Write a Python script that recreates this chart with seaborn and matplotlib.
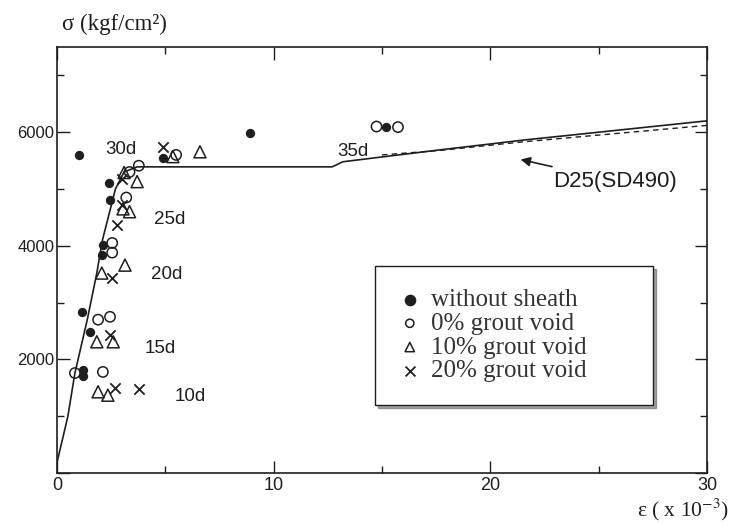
import matplotlib
matplotlib.use("Agg")
import matplotlib.pyplot as plt
import numpy as np
import pandas as pd
import seaborn as sns

# ── data (strain x10^-3, stress kgf/cm2) ──
sheath_x = [1.03, 2.40, 2.45, 2.12, 2.07, 1.15, 1.52, 1.20, 1.20, 4.90, 8.90, 15.18]
sheath_y = [5590, 5110, 4810, 4020, 3840, 2840, 2490, 1815, 1700, 5550, 5990, 6090]

void0_x = [3.78, 3.35, 3.20, 2.55, 2.55, 1.90, 2.45, 0.83, 2.12, 5.50, 14.75, 15.74]
void0_y = [5410, 5300, 4850, 4050, 3880, 2700, 2750, 1760, 1780, 5600, 6100, 6090]

void10_x = [3.10, 3.70, 3.05, 3.35, 2.07, 3.14, 1.84, 2.60, 1.90, 2.35, 5.35, 6.60]
void10_y = [5290, 5130, 4650, 4600, 3520, 3660, 2310, 2310, 1430, 1370, 5570, 5655]

void20_x = [3.00, 3.00, 2.77, 2.55, 2.45, 2.68, 3.80, 4.90]
void20_y = [5170, 4720, 4370, 3430, 2430, 1490, 1480, 5745]

curve_x = [0.0, 0.5, 0.83, 1.4, 1.84, 2.1, 2.7, 3.1, 3.7, 12.7, 13.2, 17.7, 21.5, 30.0]
curve_y = [180, 990, 1760, 2700, 3520, 4100, 5000, 5300, 5390, 5390, 5480, 5690, 5860, 6200]

rebar_x = [15.0, 17.7, 21.5, 30.0]
rebar_y = [5600, 5680, 5830, 6120]

span_labels = ["30d", "25d", "20d", "15d", "10d", "35d"]
span_x = [2.95, 5.20, 5.07, 4.75, 6.14, 13.66]
span_y = [5690, 4460, 3490, 2200, 1340, 5660]

series_names = ["without sheath", "0% grout void", "10% grout void", "20% grout void"]

ink = "#1e1e1e"

sns.set_style("ticks")
plt.rcParams["font.family"] = ["Liberation Sans", "DejaVu Sans"]
plt.rcParams["mathtext.fontset"] = "stix"

fig = plt.figure(figsize=(7.3, 5.24), dpi=100)
ax = fig.add_axes([0.078, 0.0973, 0.8904, 0.813])

# ── curves ───────────────────────────────────────────────────────
curve = pd.DataFrame({"strain": curve_x, "stress": curve_y})
rebar = pd.DataFrame({"strain": rebar_x, "stress": rebar_y})
sns.lineplot(data=curve, x="strain", y="stress", ax=ax, color=ink, lw=1.2,
             sort=False, estimator=None)
sns.lineplot(data=rebar, x="strain", y="stress", ax=ax, color=ink, lw=1.0,
             ls=(0, (4, 3)), sort=False, estimator=None)

# ── test points ──────────────────────────────────────────────────
groups = [
    (sheath_x, sheath_y, dict(marker="o", s=45, color=ink, linewidth=0)),
    (void0_x, void0_y, dict(marker="o", s=55, facecolor="none", edgecolor=ink, linewidth=1.1)),
    (void10_x, void10_y, dict(marker="^", s=75, facecolor="none", edgecolor=ink, linewidth=1.1)),
    (void20_x, void20_y, dict(marker="x", s=55, color=ink, linewidth=1.3)),
]
for name, (gx, gy, style) in zip(series_names, groups):
    df = pd.DataFrame({"strain": gx, "stress": gy})
    sns.scatterplot(data=df, x="strain", y="stress", ax=ax, label=name,
                    zorder=3, **style)

for lab, lx, ly in zip(span_labels, span_x, span_y):
    ax.text(lx, ly, lab, fontsize=13.5, ha="center", va="center", color=ink)

ax.annotate("D25(SD490)", xy=(21.4, 5520), xytext=(22.9, 5140),
            fontsize=16, ha="left", va="center", color=ink,
            arrowprops=dict(arrowstyle="-|>", color=ink, lw=1.2,
                            shrinkA=2, shrinkB=0, mutation_scale=14))

# ── axes ─────────────────────────────────────────────────────────
ax.set_xlim(0, 30)
ax.set_ylim(0, 7500)
ax.set_xticks([0, 10, 20, 30])
ax.set_xticks([5, 15, 25], minor=True)
ax.set_yticks([0, 2000, 4000, 6000])
ax.set_yticklabels(["", "2000", "4000", "6000"])
ax.set_yticks([1000, 3000, 5000, 7000], minor=True)
ax.tick_params(which="both", direction="in", top=True, right=True,
               colors=ink, width=1.0)
ax.tick_params(which="major", length=9)
ax.tick_params(which="minor", length=5)
ax.tick_params(axis="x", labelsize=13, pad=3)
ax.tick_params(axis="y", labelsize=12, pad=2)
ax.set_xlabel("")
ax.set_ylabel("")
for sp in ax.spines.values():
    sp.set_color(ink)
    sp.set_linewidth(1.2)

fig.text(62 / 730, 1 - 24 / 524, "σ (kgf/cm²)", family="Liberation Serif",
         fontsize=16.5, ha="left", va="center", color=ink)
fig.text(0.998, 1 / 524, r"ε ( x 10$^{-3}$)", family="Liberation Serif",
         fontsize=15.5, ha="right", va="bottom", color=ink)

leg = ax.legend(loc="lower left", bbox_to_anchor=(0.489, 0.16, 0.428, 0.347),
                mode="expand", labelspacing=0.05, handletextpad=0.35,
                handlelength=1.0, borderpad=0.9, borderaxespad=0,
                fancybox=False, shadow=True,
                prop={"family": "Liberation Serif", "size": 18})
leg.get_frame().set_edgecolor(ink)
leg.get_frame().set_linewidth(1.0)
for txt in leg.get_texts():
    txt.set_color("#333333")
for handle, sz in zip(leg.legend_handles, [70, 35, 45, 50]):
    handle.set_sizes([sz])

fig.savefig("out.png", dpi=100)
